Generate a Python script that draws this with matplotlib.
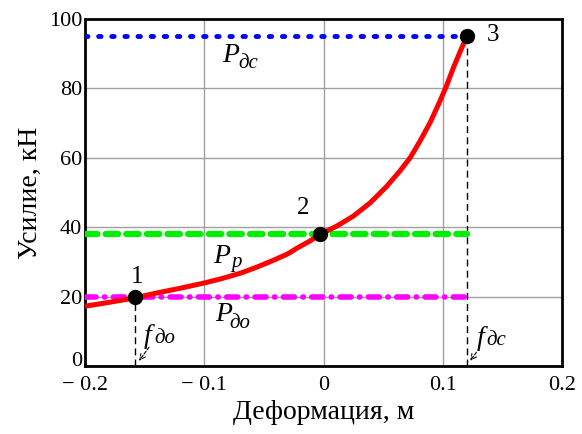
import matplotlib
matplotlib.use("Agg")
import matplotlib.pyplot as plt

plt.rcParams['font.family'] = ['Liberation Serif', 'DejaVu Serif']

# Curve
curve_x = [-0.2, -0.18, -0.158, -0.14, -0.12, -0.1, -0.085, -0.069, -0.055,
           -0.041, -0.03, -0.022, -0.012, -0.003, 0.011, 0.025, 0.039,
           0.053, 0.064, 0.0725, 0.0808, 0.0892, 0.0976, 0.1032, 0.1087,
           0.1143, 0.12]
curve_y = [17.2, 18.3, 19.6, 21.0, 22.4, 23.9, 25.2, 26.8, 28.6,
           30.6, 32.3, 34.0, 35.9, 37.9, 40.3, 43.2, 47.0,
           51.8, 56.2, 60.0, 64.8, 70.1, 76.4, 80.9, 85.9,
           90.5, 95.0]

# Characteristic points
pt_x = [-0.158, -0.003, 0.12]
pt_y = [20.0, 38.0, 95.0]
pt_labels = ['1', '2', '3']

# Force levels
P_do = 20.0
P_p = 38.0
P_dc = 95.0

x_ticks = [-0.2, -0.1, 0.0, 0.1, 0.2]
x_ticklabels = ['− 0.2', '− 0.1', '0', '0.1', '0.2']
y_ticks = [0, 20, 40, 60, 80, 100]
y_ticklabels = ['0', '20', '40', '60', '80', '100']

fig = plt.figure(figsize=(5.82, 4.34), dpi=100)
ax = fig.add_axes([0.146, 0.157, 0.82, 0.799])

ax.set_xlim(-0.2, 0.2)
ax.set_ylim(0, 100)
ax.set_xticks(x_ticks)
ax.set_xticklabels(x_ticklabels)
ax.set_yticks(y_ticks)
ax.set_yticklabels(y_ticklabels)
ax.tick_params(length=0, labelsize=16)
ax.tick_params(axis='x', pad=7)
ax.tick_params(axis='y', pad=2)
ax.get_yticklabels()[0].set_va('baseline')
ax.grid(True, color='#a0a0a0', lw=1.0)
ax.set_axisbelow(True)
for s in ax.spines.values():
    s.set_linewidth(2)
    s.set_color('black')

x_end = pt_x[2]
ax.plot([-0.2, x_end], [P_dc, P_dc], color='#0000ff', lw=3.5,
        linestyle=(0, (0.5, 2.2)), dash_capstyle='round', zorder=3)
ax.plot([-0.2, x_end], [P_p, P_p], color='#00ee00', lw=4.5,
        linestyle=(0, (2.0, 1.3)), dash_capstyle='round', zorder=3)
ax.plot([-0.2, x_end], [P_do, P_do], color='#ff00ff', lw=4,
        linestyle=(0, (2.0, 1.5, 0.1, 1.5)), dash_capstyle='round', zorder=3)

ax.plot(curve_x, curve_y, color='#ff0000', lw=3.6, zorder=4,
        solid_capstyle='butt', solid_joinstyle='round')

# Vertical dashed droplines
ax.plot([pt_x[0], pt_x[0]], [0, pt_y[0]], color='black', lw=1,
        linestyle=(0, (5, 3)), zorder=2)
ax.plot([pt_x[2], pt_x[2]], [0, pt_y[2]], color='black', lw=1,
        linestyle=(0, (5, 3)), zorder=2)

ax.plot(pt_x, pt_y, 'o', color='black', ms=10, zorder=5)

ax.text(-0.156, 25.6, pt_labels[0], fontsize=18, ha='center', va='center')
ax.text(-0.0168, 45.4, pt_labels[1], fontsize=18, ha='center', va='center')
ax.text(0.142, 95.5, pt_labels[2], fontsize=18, ha='center', va='center')

def sym(x, y, main, xs, ys, sub):
    ax.text(x, y, main, fontsize=20, style='italic', ha='left', va='baseline')
    ax.text(xs, ys, sub, fontsize=15, style='italic', ha='left', va='baseline')

sym(-0.0852, 87.5, 'P', -0.0715, 85.8, 'дс')
sym(-0.0922, 29.7, 'P', -0.0775, 28.4, 'р')
sym(-0.0908, 12.8, 'P', -0.0790, 10.8, 'до')
sym(-0.151, 6.6, 'f', -0.1420, 6.6, 'до')
sym(0.1283, 6.1, 'f', 0.1365, 6.1, 'дс')

ax.annotate('', xy=(-0.156, 0.8), xytext=(-0.145, 6.0),
            arrowprops=dict(arrowstyle='->', color='black', lw=0.8,
                            linestyle=(0, (3, 1.5))))
ax.annotate('', xy=(0.1215, 0.8), xytext=(0.1295, 4.6),
            arrowprops=dict(arrowstyle='->', color='black', lw=0.8,
                            linestyle=(0, (3, 1.5))))

ax.set_xlabel('Деформация, м', fontsize=20, labelpad=4)
ax.set_ylabel('Усилие, кН', fontsize=20, labelpad=4)

fig.savefig('out.png', dpi=100)
